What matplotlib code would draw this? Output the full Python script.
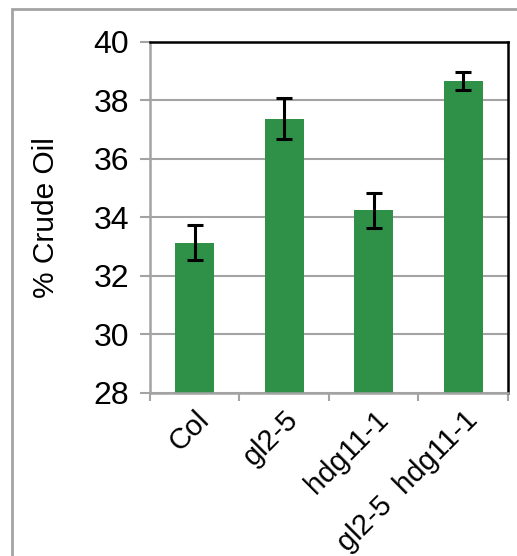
import numpy as np
import matplotlib
matplotlib.use('Agg')
import matplotlib.pyplot as plt
from matplotlib.patches import Rectangle

plt.rcParams['font.family'] = ['Liberation Sans', 'DejaVu Sans']

genotypes = ['Col', 'gl2-5', 'hdg11-1', 'gl2-5  hdg11-1']
crude_oil = [33.13, 37.37, 34.24, 38.66]
oil_err = [0.60, 0.70, 0.60, 0.30]
yticks = [28, 30, 32, 34, 36, 38, 40]

grey = '#A3A3A3'
bar_color = '#2F9148'

fig = plt.figure(figsize=(5.17, 5.56), dpi=100)
ax = fig.add_axes([0.2901, 0.2932, 0.6925, 0.6313])

# outer frame of the pasted chart
fig.patches.append(Rectangle((12 / 517, -0.1), 1.2, (1 - 9 / 556) + 0.1,
                             transform=fig.transFigure, fill=False,
                             edgecolor=grey, linewidth=2.0))

x = np.arange(len(genotypes))
ax.bar(x, crude_oil, width=0.44, color=bar_color, zorder=2)
ax.errorbar(x, crude_oil, yerr=oil_err, fmt='none', ecolor='black',
            elinewidth=2.2, capsize=5.5, capthick=2.2, zorder=3)

ax.set_xlim(-0.5, len(genotypes) - 0.5)
ax.set_ylim(28, 40)
ax.set_yticks(yticks)
ax.set_yticklabels([str(v) for v in yticks], fontsize=23)
ax.yaxis.grid(True, color=grey, linewidth=1.5, zorder=0)
ax.set_axisbelow(True)

ax.set_xticks(x)
ax.set_xticklabels(genotypes, rotation=45, ha='right', va='top',
                   rotation_mode='anchor', fontsize=21)
ax.set_xticks(np.arange(len(genotypes) + 1) - 0.5, minor=True)
ax.tick_params(axis='x', which='major', length=0, pad=9)
ax.tick_params(axis='x', which='minor', length=6, width=1.5, color=grey)
ax.tick_params(axis='y', length=7, width=1.5, color=grey, pad=8)

for side in ['left', 'bottom']:
    ax.spines[side].set_color(grey)
    ax.spines[side].set_linewidth(1.8)
for side in ['top', 'right']:
    ax.spines[side].set_color('black')
    ax.spines[side].set_linewidth(1.8)

ax.set_ylabel('% Crude Oil', fontsize=21.5, labelpad=24)

plt.savefig('out.png', dpi=100)
